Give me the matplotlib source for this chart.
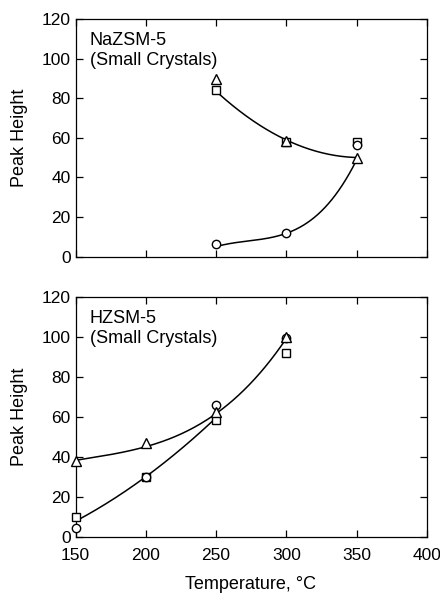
import numpy as np
import matplotlib
matplotlib.use("Agg")
import matplotlib.pyplot as plt

plt.rcParams['font.family'] = ['Liberation Sans', 'DejaVu Sans']

# ---- data: NaZSM-5 (top) ----
na_tri_x = [250, 300, 350]
na_tri_y = [89.5, 58.5, 49.7]
na_sq_x = [250, 300, 350]
na_sq_y = [84.0, 58.0, 58.0]
na_circ_x = [250, 300, 350]
na_circ_y = [6.5, 11.8, 56.4]
# fitted curves (anchor points)
na_upper_x = [252, 275, 300, 325, 350]
na_upper_y = [82.0, 70.0, 58.0, 53.0, 50.0]
na_lower_x = [252, 275, 300, 325, 350]
na_lower_y = [5.5, 8.0, 12.0, 23.0, 49.0]

# ---- data: HZSM-5 (bottom) ----
h_tri_x = [150, 200, 250, 300]
h_tri_y = [38.0, 46.7, 62.5, 99.7]
h_sq_x = [150, 200, 250, 300]
h_sq_y = [9.7, 30.0, 58.3, 92.0]
h_circ_x = [150, 200, 250, 300]
h_circ_y = [4.5, 30.0, 66.0, 99.5]
h_upper_x = [150, 175, 200, 225, 250, 275, 300]
h_upper_y = [38.5, 40.0, 46.0, 52.0, 60.0, 78.0, 99.0]
h_lower_x = [152, 200, 250]
h_lower_y = [8.5, 30.0, 59.5]

xticks = [150, 200, 250, 300, 350, 400]
yticks = [0, 20, 40, 60, 80, 100, 120]

fig = plt.figure(figsize=(4.40, 5.93), dpi=100)
ax1 = fig.add_axes([0.1716, 0.5671, 0.7989, 0.4008])
ax2 = fig.add_axes([0.1716, 0.0949, 0.7989, 0.4047])

mk = dict(linestyle='none', markerfacecolor='white', markeredgecolor='black',
          markeredgewidth=1.0, zorder=3, clip_on=False)


def curve(ax, xs, ys, deg):
    c = np.polyfit(xs, ys, deg)
    xx = np.linspace(min(xs), max(xs), 200)
    ax.plot(xx, np.polyval(c, xx), color='black', lw=1.1, zorder=2)


def style(ax, name, show_xlabels):
    ax.set_xlim(150, 400)
    ax.set_ylim(0, 120)
    ax.set_xticks(xticks)
    ax.set_yticks(yticks)
    ax.tick_params(direction='in', length=5, width=0.9, top=True, right=True,
                   labelsize=12.5, pad=3.5)
    ax.tick_params(axis='x', pad=8)
    if not show_xlabels:
        ax.tick_params(labelbottom=False)
    for s in ax.spines.values():
        s.set_linewidth(0.9)
    ax.set_ylabel('Peak Height', fontsize=13)
    ax.yaxis.set_label_coords(-0.135, 0.5)
    ax.text(0.041, 0.8906, name, transform=ax.transAxes, fontsize=13,
            ha='left', va='baseline')
    ax.text(0.041, 0.8906 - 20 / (ax.get_position().height * 593),
            '(Small Crystals)', transform=ax.transAxes, fontsize=13,
            ha='left', va='baseline')


# top panel
curve(ax1, na_upper_x, na_upper_y, 2)
curve(ax1, na_lower_x, na_lower_y, 3)
ax1.plot(na_sq_x, na_sq_y, marker='s', markersize=6, **mk)
ax1.plot(na_circ_x, na_circ_y, marker='o', markersize=6, **mk)
ax1.plot(na_tri_x, na_tri_y, marker='^', markersize=6.5, **mk)
style(ax1, 'NaZSM-5', False)

# bottom panel
curve(ax2, h_upper_x, h_upper_y, 3)
curve(ax2, h_lower_x, h_lower_y, 2)
ax2.plot(h_sq_x, h_sq_y, marker='s', markersize=6, **mk)
ax2.plot(h_circ_x, h_circ_y, marker='o', markersize=6, **mk)
ax2.plot(h_tri_x, h_tri_y, marker='^', markersize=6.5, **mk)
style(ax2, 'HZSM-5', True)
ax2.set_xlabel('Temperature, °C', fontsize=13)
ax2.xaxis.set_label_coords(0.4966, -0.163)

fig.savefig('out.png', dpi=100)
